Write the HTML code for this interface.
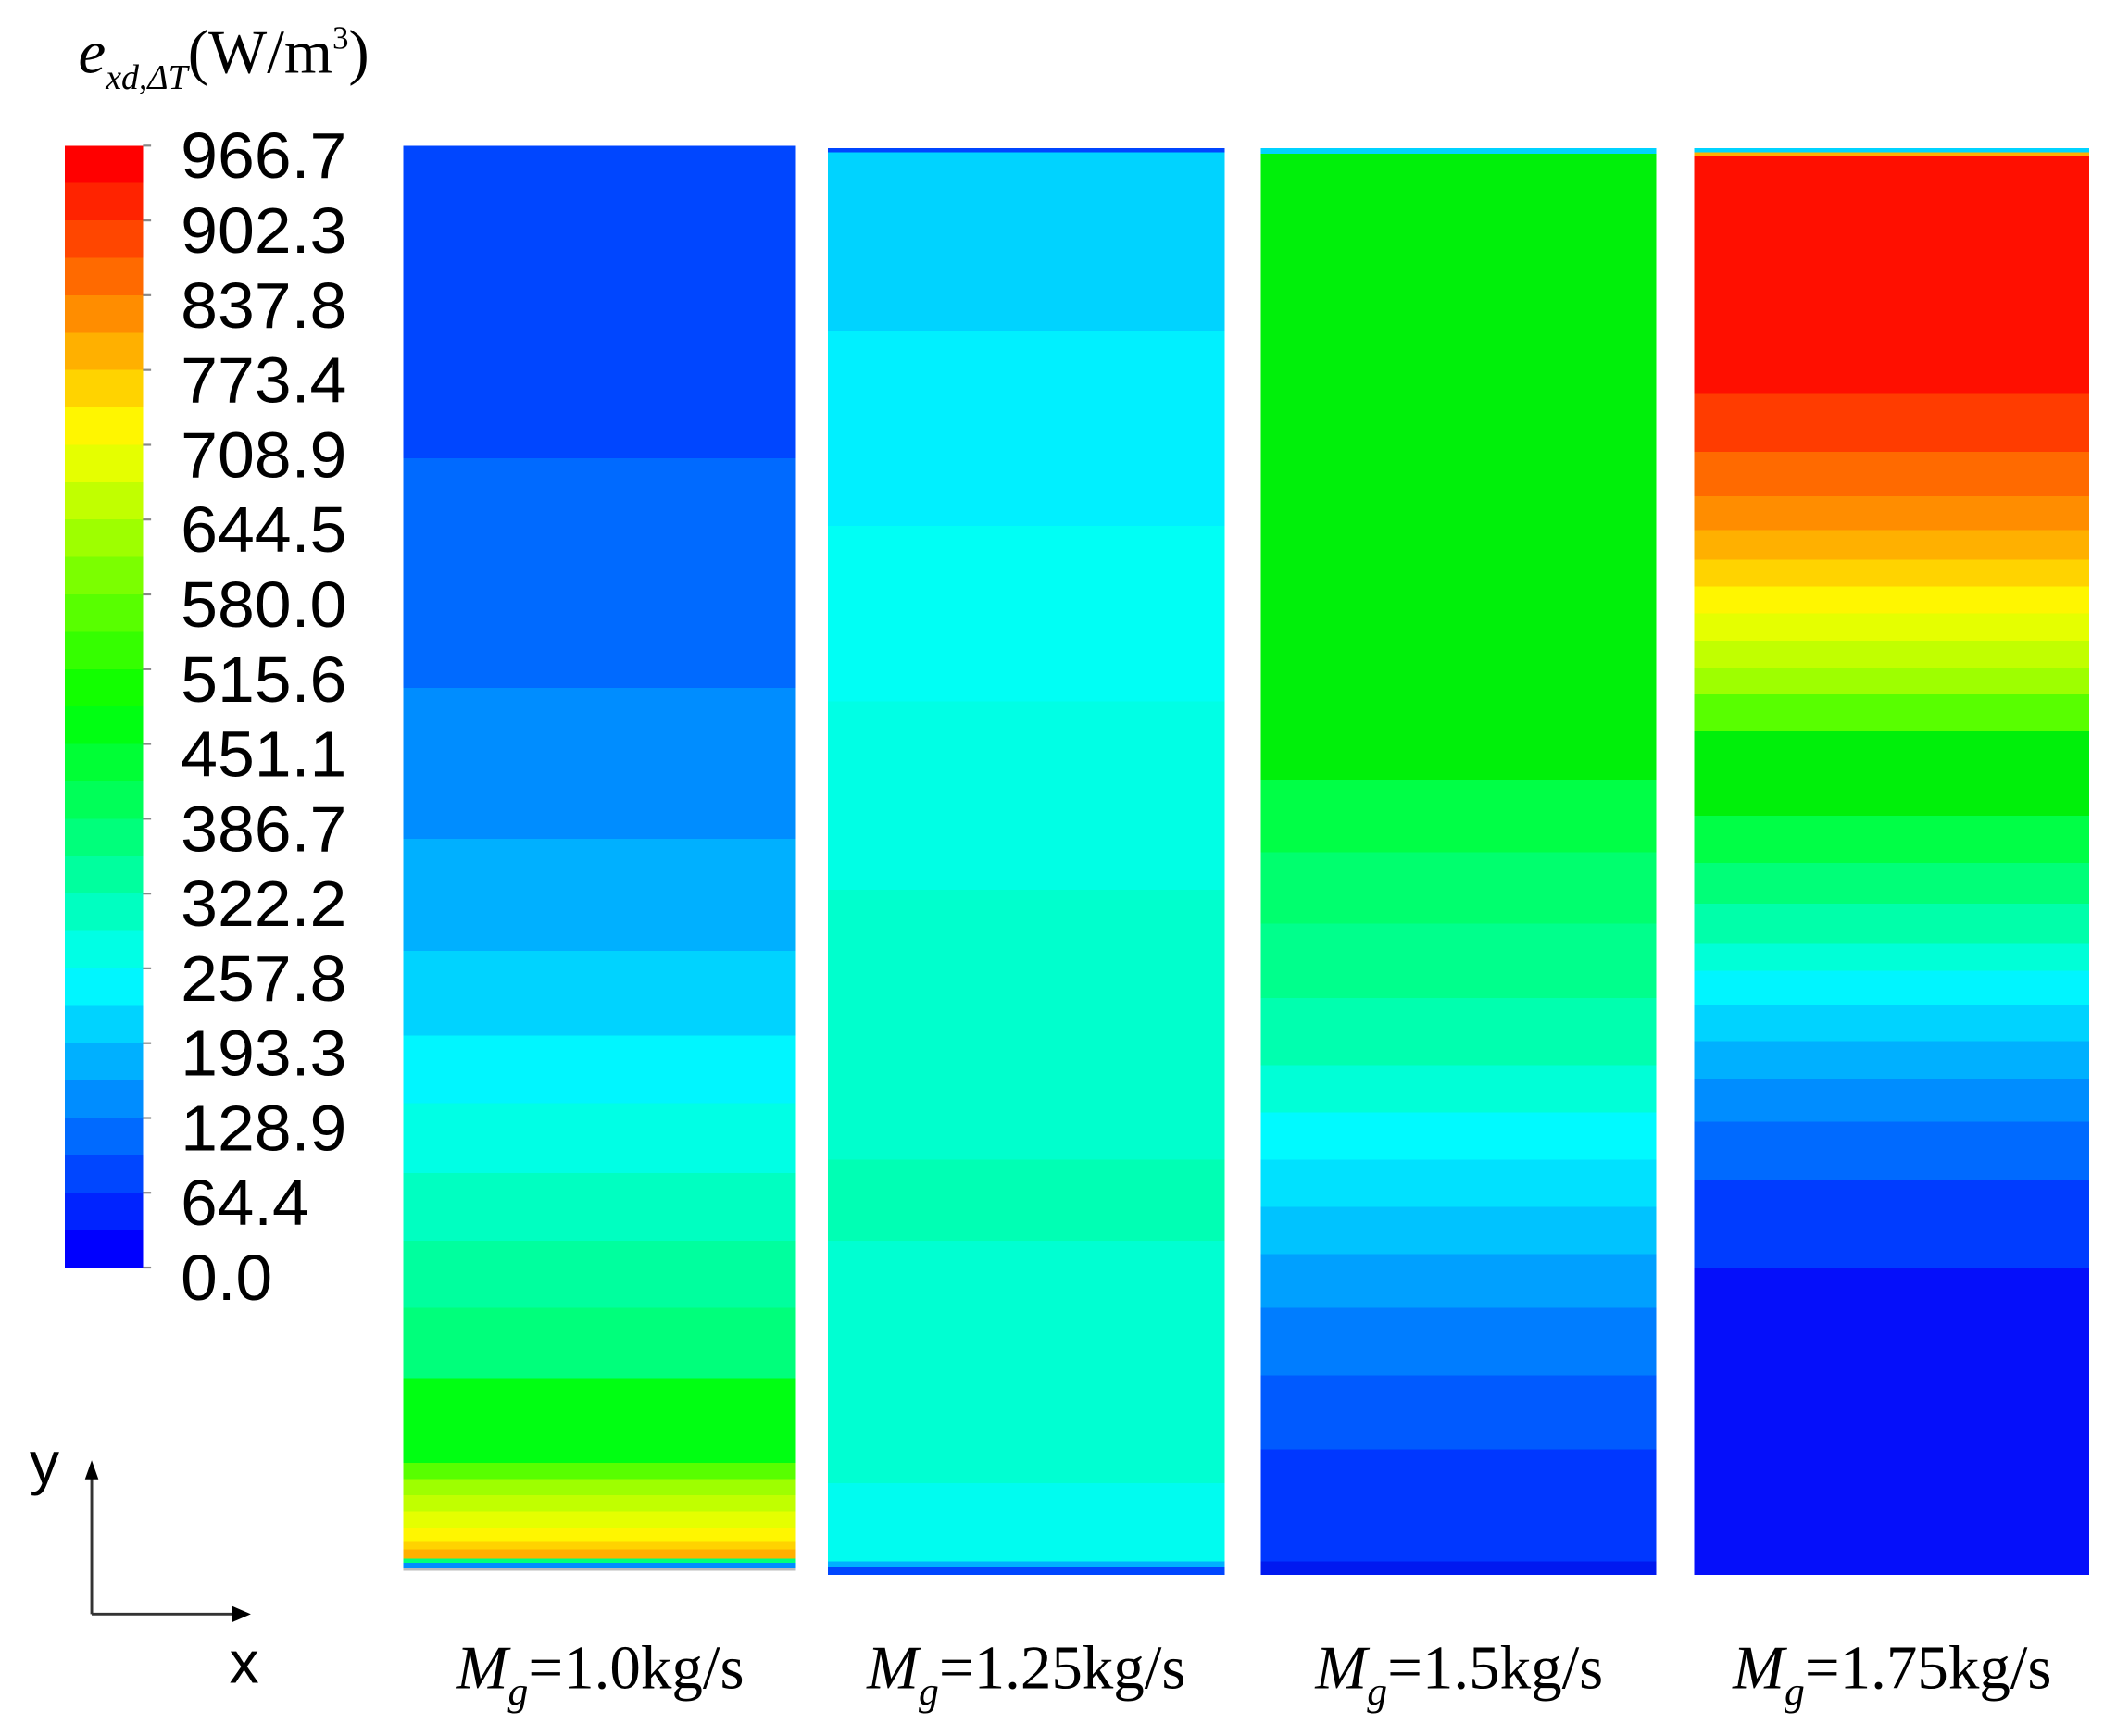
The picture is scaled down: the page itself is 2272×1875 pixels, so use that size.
<!DOCTYPE html>
<html><head><meta charset="utf-8"><style>
html,body{margin:0;padding:0;background:#fff;}
svg{display:block;}
</style></head><body>
<svg xmlns="http://www.w3.org/2000/svg" width="2272" height="1875" viewBox="0 0 1560 1287.4">
<rect width="1560" height="1287.4" fill="#fff"/>
<text x="58" y="54" font-family="Liberation Serif, serif" font-size="46" fill="#000"><tspan font-style="italic">e</tspan><tspan font-style="italic" font-size="26" dy="12">xd,ΔT</tspan><tspan dy="-12" font-size="46">(W/m</tspan><tspan font-size="24" dy="-18">3</tspan><tspan dy="18" font-size="46">)</tspan></text>
<g shape-rendering="crispEdges">
<rect x="48" y="108.0" width="58" height="28.2" fill="rgb(255,0,0)"/>
<rect x="48" y="135.7" width="58" height="28.2" fill="rgb(255,35,0)"/>
<rect x="48" y="163.5" width="58" height="28.2" fill="rgb(255,70,0)"/>
<rect x="48" y="191.2" width="58" height="28.2" fill="rgb(255,106,0)"/>
<rect x="48" y="218.9" width="58" height="28.2" fill="rgb(255,141,0)"/>
<rect x="48" y="246.7" width="58" height="28.2" fill="rgb(255,176,0)"/>
<rect x="48" y="274.4" width="58" height="28.2" fill="rgb(255,211,0)"/>
<rect x="48" y="302.1" width="58" height="28.2" fill="rgb(255,246,0)"/>
<rect x="48" y="329.9" width="58" height="28.2" fill="rgb(229,255,0)"/>
<rect x="48" y="357.6" width="58" height="28.2" fill="rgb(193,255,0)"/>
<rect x="48" y="385.3" width="58" height="28.2" fill="rgb(158,255,0)"/>
<rect x="48" y="413.1" width="58" height="28.2" fill="rgb(123,255,0)"/>
<rect x="48" y="440.8" width="58" height="28.2" fill="rgb(88,255,0)"/>
<rect x="48" y="468.5" width="58" height="28.2" fill="rgb(53,255,0)"/>
<rect x="48" y="496.3" width="58" height="28.2" fill="rgb(18,255,0)"/>
<rect x="48" y="524.0" width="58" height="28.2" fill="rgb(0,255,18)"/>
<rect x="48" y="551.7" width="58" height="28.2" fill="rgb(0,255,53)"/>
<rect x="48" y="579.5" width="58" height="28.2" fill="rgb(0,255,88)"/>
<rect x="48" y="607.2" width="58" height="28.2" fill="rgb(0,255,123)"/>
<rect x="48" y="634.9" width="58" height="28.2" fill="rgb(0,255,158)"/>
<rect x="48" y="662.7" width="58" height="28.2" fill="rgb(0,255,193)"/>
<rect x="48" y="690.4" width="58" height="28.2" fill="rgb(0,255,229)"/>
<rect x="48" y="718.1" width="58" height="28.2" fill="rgb(0,246,255)"/>
<rect x="48" y="745.9" width="58" height="28.2" fill="rgb(0,211,255)"/>
<rect x="48" y="773.6" width="58" height="28.2" fill="rgb(0,176,255)"/>
<rect x="48" y="801.3" width="58" height="28.2" fill="rgb(0,141,255)"/>
<rect x="48" y="829.1" width="58" height="28.2" fill="rgb(0,106,255)"/>
<rect x="48" y="856.8" width="58" height="28.2" fill="rgb(0,70,255)"/>
<rect x="48" y="884.5" width="58" height="28.2" fill="rgb(0,35,255)"/>
<rect x="48" y="912.3" width="58" height="27.7" fill="rgb(0,0,255)"/>
</g>
<g stroke="#888" stroke-width="1.5">
<line x1="106" y1="108" x2="112" y2="108"/><line x1="106" y1="163.5" x2="112" y2="163.5"/><line x1="106" y1="218.9" x2="112" y2="218.9"/><line x1="106" y1="274.4" x2="112" y2="274.4"/><line x1="106" y1="329.9" x2="112" y2="329.9"/><line x1="106" y1="385.3" x2="112" y2="385.3"/><line x1="106" y1="440.8" x2="112" y2="440.8"/><line x1="106" y1="496.3" x2="112" y2="496.3"/><line x1="106" y1="551.7" x2="112" y2="551.7"/><line x1="106" y1="607.2" x2="112" y2="607.2"/><line x1="106" y1="662.7" x2="112" y2="662.7"/><line x1="106" y1="718.1" x2="112" y2="718.1"/><line x1="106" y1="773.6" x2="112" y2="773.6"/><line x1="106" y1="829.1" x2="112" y2="829.1"/><line x1="106" y1="884.5" x2="112" y2="884.5"/><line x1="106" y1="940" x2="112" y2="940"/>
</g>
<g font-family="Liberation Sans, Arial, sans-serif" font-size="48" fill="#000" lengthAdjust="spacingAndGlyphs">
<text x="134" y="132" textLength="123" lengthAdjust="spacingAndGlyphs">966.7</text><text x="134" y="187.5" textLength="123" lengthAdjust="spacingAndGlyphs">902.3</text><text x="134" y="243" textLength="123" lengthAdjust="spacingAndGlyphs">837.8</text><text x="134" y="298.4" textLength="123" lengthAdjust="spacingAndGlyphs">773.4</text><text x="134" y="353.9" textLength="123" lengthAdjust="spacingAndGlyphs">708.9</text><text x="134" y="409.3" textLength="123" lengthAdjust="spacingAndGlyphs">644.5</text><text x="134" y="464.8" textLength="123" lengthAdjust="spacingAndGlyphs">580.0</text><text x="134" y="520.3" textLength="123" lengthAdjust="spacingAndGlyphs">515.6</text><text x="134" y="575.7" textLength="123" lengthAdjust="spacingAndGlyphs">451.1</text><text x="134" y="631.2" textLength="123" lengthAdjust="spacingAndGlyphs">386.7</text><text x="134" y="686.7" textLength="123" lengthAdjust="spacingAndGlyphs">322.2</text><text x="134" y="742.1" textLength="123" lengthAdjust="spacingAndGlyphs">257.8</text><text x="134" y="797.6" textLength="123" lengthAdjust="spacingAndGlyphs">193.3</text><text x="134" y="853.1" textLength="123" lengthAdjust="spacingAndGlyphs">128.9</text><text x="134" y="908.5" textLength="95" lengthAdjust="spacingAndGlyphs">64.4</text><text x="134" y="964" textLength="68" lengthAdjust="spacingAndGlyphs">0.0</text>
</g>
<g shape-rendering="crispEdges">
<rect x="299" y="108" width="291" height="232" fill="rgb(0,70,255)"/>
<rect x="299" y="340" width="291" height="170" fill="rgb(0,106,255)"/>
<rect x="299" y="510" width="291" height="112" fill="rgb(0,141,255)"/>
<rect x="299" y="622" width="291" height="83" fill="rgb(0,176,255)"/>
<rect x="299" y="705" width="291" height="63" fill="rgb(0,211,255)"/>
<rect x="299" y="768" width="291" height="50" fill="rgb(0,246,255)"/>
<rect x="299" y="818" width="291" height="52" fill="rgb(0,255,229)"/>
<rect x="299" y="870" width="291" height="50" fill="rgb(0,255,193)"/>
<rect x="299" y="920" width="291" height="50" fill="rgb(0,255,158)"/>
<rect x="299" y="970" width="291" height="52" fill="rgb(0,255,123)"/>
<rect x="299" y="1022" width="291" height="63" fill="rgb(0,255,18)"/>
<rect x="299" y="1085" width="291" height="12" fill="rgb(88,255,0)"/>
<rect x="299" y="1097" width="291" height="12" fill="rgb(158,255,0)"/>
<rect x="299" y="1109" width="291" height="12" fill="rgb(193,255,0)"/>
<rect x="299" y="1121" width="291" height="12" fill="rgb(229,255,0)"/>
<rect x="299" y="1133" width="291" height="10" fill="rgb(255,246,0)"/>
<rect x="299" y="1143" width="291" height="6" fill="rgb(255,211,0)"/>
<rect x="299" y="1149" width="291" height="7" fill="rgb(255,176,0)"/>
<rect x="299" y="1156" width="291" height="3" fill="rgb(0,255,123)"/>
<rect x="299" y="1159" width="291" height="4" fill="rgb(0,141,255)"/>
<rect x="299" y="1163" width="291" height="2" fill="#bbb"/>
</g>
<g shape-rendering="crispEdges">
<rect x="614" y="110" width="294" height="3" fill="rgb(0,70,255)"/>
<rect x="614" y="113" width="294" height="132" fill="rgb(0,211,255)"/>
<rect x="614" y="245" width="294" height="145" fill="rgb(0,240,255)"/>
<rect x="614" y="390" width="294" height="130" fill="rgb(0,255,245)"/>
<rect x="614" y="520" width="294" height="140" fill="rgb(0,255,229)"/>
<rect x="614" y="660" width="294" height="200" fill="rgb(0,255,205)"/>
<rect x="614" y="860" width="294" height="60" fill="rgb(0,255,180)"/>
<rect x="614" y="920" width="294" height="180" fill="rgb(0,255,210)"/>
<rect x="614" y="1100" width="294" height="58" fill="rgb(0,252,240)"/>
<rect x="614" y="1158" width="294" height="4" fill="rgb(0,176,255)"/>
<rect x="614" y="1162" width="294" height="6" fill="rgb(0,70,255)"/>
</g>
<g shape-rendering="crispEdges">
<rect x="935" y="110" width="293" height="4" fill="rgb(0,211,255)"/>
<rect x="935" y="114" width="293" height="464" fill="rgb(0,240,10)"/>
<rect x="935" y="578" width="293" height="54" fill="rgb(0,255,70)"/>
<rect x="935" y="632" width="293" height="53" fill="rgb(0,255,110)"/>
<rect x="935" y="685" width="293" height="55" fill="rgb(0,255,140)"/>
<rect x="935" y="740" width="293" height="50" fill="rgb(0,255,175)"/>
<rect x="935" y="790" width="293" height="35" fill="rgb(0,255,215)"/>
<rect x="935" y="825" width="293" height="35" fill="rgb(0,250,255)"/>
<rect x="935" y="860" width="293" height="35" fill="rgb(0,225,255)"/>
<rect x="935" y="895" width="293" height="35" fill="rgb(0,195,255)"/>
<rect x="935" y="930" width="293" height="40" fill="rgb(0,160,255)"/>
<rect x="935" y="970" width="293" height="50" fill="rgb(0,125,255)"/>
<rect x="935" y="1020" width="293" height="55" fill="rgb(0,90,255)"/>
<rect x="935" y="1075" width="293" height="83" fill="rgb(0,55,255)"/>
<rect x="935" y="1158" width="293" height="10" fill="rgb(0,25,240)"/>
</g>
<g shape-rendering="crispEdges">
<rect x="1256" y="110" width="293" height="3" fill="rgb(0,211,255)"/>
<rect x="1256" y="113" width="293" height="3" fill="rgb(255,176,0)"/>
<rect x="1256" y="116" width="293" height="176" fill="rgb(255,15,0)"/>
<rect x="1256" y="292" width="293" height="43" fill="rgb(255,60,0)"/>
<rect x="1256" y="335" width="293" height="33" fill="rgb(255,106,0)"/>
<rect x="1256" y="368" width="293" height="25" fill="rgb(255,141,0)"/>
<rect x="1256" y="393" width="293" height="22" fill="rgb(255,176,0)"/>
<rect x="1256" y="415" width="293" height="20" fill="rgb(255,211,0)"/>
<rect x="1256" y="435" width="293" height="20" fill="rgb(255,246,0)"/>
<rect x="1256" y="455" width="293" height="20" fill="rgb(229,255,0)"/>
<rect x="1256" y="475" width="293" height="20" fill="rgb(193,255,0)"/>
<rect x="1256" y="495" width="293" height="20" fill="rgb(158,255,0)"/>
<rect x="1256" y="515" width="293" height="27" fill="rgb(88,255,0)"/>
<rect x="1256" y="542" width="293" height="63" fill="rgb(0,240,10)"/>
<rect x="1256" y="605" width="293" height="35" fill="rgb(0,255,70)"/>
<rect x="1256" y="640" width="293" height="30" fill="rgb(0,255,120)"/>
<rect x="1256" y="670" width="293" height="30" fill="rgb(0,255,170)"/>
<rect x="1256" y="700" width="293" height="20" fill="rgb(0,255,215)"/>
<rect x="1256" y="720" width="293" height="25" fill="rgb(0,245,255)"/>
<rect x="1256" y="745" width="293" height="27" fill="rgb(0,211,255)"/>
<rect x="1256" y="772" width="293" height="28" fill="rgb(0,176,255)"/>
<rect x="1256" y="800" width="293" height="32" fill="rgb(0,141,255)"/>
<rect x="1256" y="832" width="293" height="43" fill="rgb(0,106,255)"/>
<rect x="1256" y="875" width="293" height="65" fill="rgb(0,60,255)"/>
<rect x="1256" y="940" width="293" height="228" fill="rgb(5,15,250)"/>
</g>
<g stroke="#333" stroke-width="2" fill="none">
<line x1="68" y1="1095" x2="68" y2="1197"/>
<line x1="68" y1="1197" x2="175" y2="1197"/>
</g>
<polygon points="68,1083 63,1097 73,1097" fill="#000"/>
<polygon points="186,1197 172,1191 172,1203" fill="#000"/>
<text x="22" y="1100" font-family="Liberation Sans, sans-serif" font-size="44" fill="#000">y</text>
<text x="170" y="1248" font-family="Liberation Sans, sans-serif" font-size="44" fill="#000">x</text>
<g font-family="Liberation Serif, serif" font-size="46" fill="#000" text-anchor="middle">
<text x="445" y="1252"><tspan font-style="italic">M</tspan><tspan font-style="italic" font-size="30" dy="12">g</tspan><tspan dy="-12">=1.0kg/s</tspan></text>
<text x="761" y="1252"><tspan font-style="italic">M</tspan><tspan font-style="italic" font-size="30" dy="12">g</tspan><tspan dy="-12">=1.25kg/s</tspan></text>
<text x="1082" y="1252"><tspan font-style="italic">M</tspan><tspan font-style="italic" font-size="30" dy="12">g</tspan><tspan dy="-12">=1.5kg/s</tspan></text>
<text x="1403" y="1252"><tspan font-style="italic">M</tspan><tspan font-style="italic" font-size="30" dy="12">g</tspan><tspan dy="-12">=1.75kg/s</tspan></text>
</g>
</svg>
</body></html>
